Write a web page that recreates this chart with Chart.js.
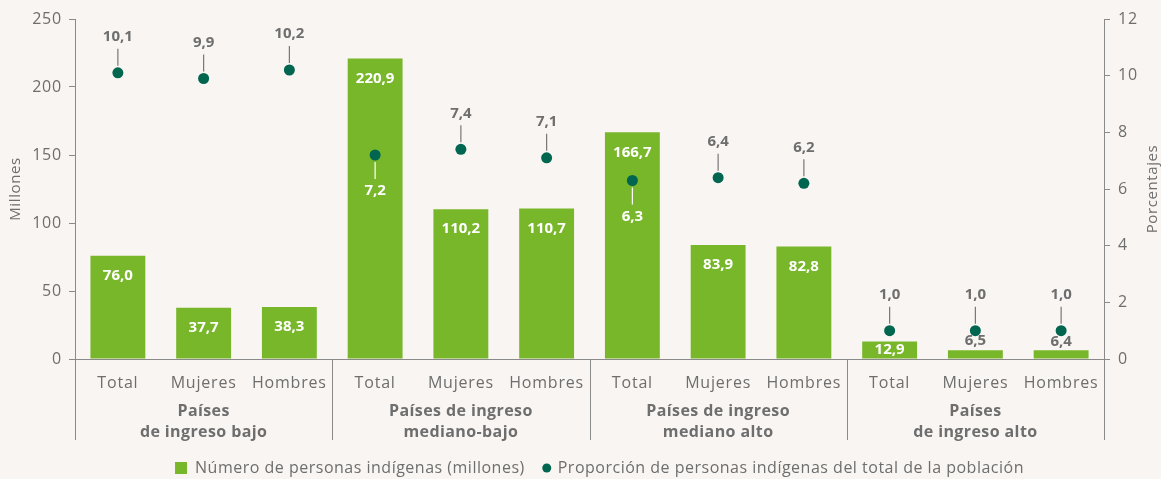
<!DOCTYPE html>
<html lang="es">
<head>
<meta charset="UTF-8">
<title>Personas indígenas por nivel de ingreso</title>
<script src="https://cdn.jsdelivr.net/npm/chart.js"></script>
<style>
    body { margin: 0; background: #f9f5f2; }
    #wrap { width: 1161px; height: 479px; }
</style>
</head>
<body>
<div id="wrap"><canvas id="chart" width="1161" height="479"></canvas></div>
<script>
    var categories = ['Total', 'Mujeres', 'Hombres', 'Total', 'Mujeres', 'Hombres',
                      'Total', 'Mujeres', 'Hombres', 'Total', 'Mujeres', 'Hombres'];
    var groups = [
        ['Países', 'de ingreso bajo'],
        ['Países de ingreso', 'mediano-bajo'],
        ['Países de ingreso', 'mediano alto'],
        ['Países', 'de ingreso alto']
    ];
    var millones = [76.0, 37.7, 38.3, 220.9, 110.2, 110.7, 166.7, 83.9, 82.8, 12.9, 6.5, 6.4];
    var porcentajes = [10.1, 9.9, 10.2, 7.2, 7.4, 7.1, 6.3, 6.4, 6.2, 1.0, 1.0, 1.0];
    var legendNames = ['Número de personas indígenas (millones)', 'Proporción de personas indígenas del total de la población'];

    var GREEN = '#78b72a';
    var DARK = '#00664f';
    var GRAY = '#6e6e6e';
    var FONT = '"Open Sans", "DejaVu Sans", sans-serif';

    function fmt(v) {
        return v.toFixed(1).replace('.', ',');
    }

    var labelsPlugin = {
        id: 'labelsPlugin',
        beforeDraw: function (chart) {
            // a bit wider tick text, like the original typeface
            chart.ctx.letterSpacing = '0.8px';
        },
        beforeDatasetsDraw: function (chart) {
            chart.ctx.letterSpacing = '0px';
        },
        afterDatasetsDraw: function (chart) {
            var ctx = chart.ctx;
            var bars = chart.getDatasetMeta(0).data;
            var pts = chart.getDatasetMeta(1).data;
            var base = chart.scales.y.getPixelForValue(0);
            ctx.save();
            ctx.letterSpacing = '0px';
            ctx.textAlign = 'center';
            ctx.textBaseline = 'middle';
            ctx.font = 'bold 15px ' + FONT;

            // bar values
            bars.forEach(function (bar, i) {
                var h = base - bar.y;
                if (h < 12) {
                    ctx.fillStyle = GRAY;
                    ctx.fillText(fmt(millones[i]), bar.x, bar.y - 9);
                } else {
                    ctx.fillStyle = '#ffffff';
                    ctx.fillText(fmt(millones[i]), bar.x, bar.y + Math.min(20, h / 2));
                }
            });

            // point values with a leader line
            pts.forEach(function (p, i) {
                var inside = p.y > bars[i].y;
                var col = inside ? '#ffffff' : '#777777';
                var dir = inside ? 1 : -1;
                ctx.strokeStyle = col;
                ctx.lineWidth = 1.2;
                ctx.beginPath();
                ctx.moveTo(p.x, p.y + dir * 7);
                ctx.lineTo(p.x, p.y + dir * 24);
                ctx.stroke();
                ctx.fillStyle = inside ? '#ffffff' : GRAY;
                ctx.fillText(fmt(porcentajes[i]), p.x, p.y + dir * 36);
            });
            ctx.restore();
        },
        afterDraw: function (chart) {
            var ctx = chart.ctx;
            var area = chart.chartArea;
            var x = chart.scales.x;
            var bottom = area.bottom + 81;
            ctx.save();

            // group separators
            ctx.strokeStyle = '#8a8a8a';
            ctx.lineWidth = 1;
            var seps = [area.left, area.right];
            for (var g = 1; g < groups.length; g++) {
                seps.push((x.getPixelForValue(g * 3 - 1) + x.getPixelForValue(g * 3)) / 2);
            }
            seps.forEach(function (sx) {
                sx = Math.round(sx) + 0.5;
                ctx.beginPath();
                ctx.moveTo(sx, area.bottom);
                ctx.lineTo(sx, bottom);
                ctx.stroke();
            });

            // group names
            ctx.fillStyle = GRAY;
            ctx.font = 'bold 16px ' + FONT;
            ctx.letterSpacing = '0.4px';
            ctx.textAlign = 'center';
            ctx.textBaseline = 'middle';
            groups.forEach(function (lines, g) {
                var cx = (x.getPixelForValue(g * 3) + x.getPixelForValue(g * 3 + 2)) / 2;
                ctx.fillText(lines[0], cx, area.bottom + 52);
                ctx.fillText(lines[1], cx, area.bottom + 73);
            });

            // axis titles
            ctx.font = '15px ' + FONT;
            ctx.letterSpacing = '0.6px';
            var midY = (area.top + area.bottom) / 2;
            ctx.save();
            ctx.translate(16, midY);
            ctx.rotate(-Math.PI / 2);
            ctx.fillText('Millones', 0, 0);
            ctx.restore();
            ctx.save();
            ctx.translate(1153, midY);
            ctx.rotate(-Math.PI / 2);
            ctx.fillText('Porcentajes', 0, 0);
            ctx.restore();

            // legend
            ctx.font = '16px ' + FONT;
            ctx.letterSpacing = '0.5px';
            ctx.textAlign = 'left';
            var w1 = ctx.measureText(legendNames[0]).width;
            var w2 = ctx.measureText(legendNames[1]).width;
            var total = 12 + 8 + w1 + 18 + 8 + 7 + w2;
            var lx = (area.left + area.right) / 2 - total / 2 + 10;
            var ly = 468;
            ctx.fillStyle = GREEN;
            ctx.fillRect(lx, ly - 6, 12, 12);
            lx += 20;
            ctx.fillStyle = GRAY;
            ctx.fillText(legendNames[0], lx, ly);
            lx += w1 + 18 + 4;
            ctx.fillStyle = DARK;
            ctx.beginPath();
            ctx.arc(lx, ly, 4.5, 0, Math.PI * 2);
            ctx.fill();
            lx += 11;
            ctx.fillStyle = GRAY;
            ctx.fillText(legendNames[1], lx, ly);
            ctx.restore();
        }
    };

    var ctx = document.getElementById('chart').getContext('2d');
    var chart = new Chart(ctx, {
        type: 'bar',
        data: {
            labels: categories,
            datasets: [{
                label: legendNames[0],
                data: millones,
                backgroundColor: GREEN,
                yAxisID: 'y',
                categoryPercentage: 1,
                barPercentage: 0.64,
                order: 2
            }, {
                type: 'line',
                label: legendNames[1],
                data: porcentajes,
                yAxisID: 'y1',
                showLine: false,
                pointRadius: 5.5,
                pointBorderWidth: 0,
                pointBackgroundColor: DARK,
                pointBorderColor: DARK,
                order: 1
            }]
        },
        options: {
            responsive: false,
            animation: false,
            layout: { padding: { top: 19, bottom: 39, left: 0, right: 0 } },
            plugins: {
                legend: { display: false },
                tooltip: { enabled: false }
            },
            scales: {
                x: {
                    grid: { display: false, drawTicks: false },
                    border: { color: '#8a8a8a' },
                    ticks: { color: GRAY, font: { family: FONT, size: 16 }, padding: 15, maxRotation: 0, autoSkip: false },
                    afterFit: function (scale) { scale.height = 81; }
                },
                y: {
                    position: 'left',
                    min: 0, max: 250,
                    ticks: { stepSize: 50, color: GRAY, font: { family: FONT, size: 16 }, padding: 7 },
                    grid: { drawOnChartArea: false, tickLength: 6, color: '#8a8a8a' },
                    border: { color: '#8a8a8a' },
                    afterFit: function (scale) { scale.width = 75; }
                },
                y1: {
                    position: 'right',
                    min: 0, max: 12,
                    ticks: { stepSize: 2, color: GRAY, font: { family: FONT, size: 16 }, padding: 8 },
                    grid: { drawOnChartArea: false, tickLength: 6, color: '#8a8a8a' },
                    border: { color: '#8a8a8a' },
                    afterFit: function (scale) { scale.width = 57; }
                }
            }
        },
        plugins: [labelsPlugin]
    });
</script>
</body>
</html>
